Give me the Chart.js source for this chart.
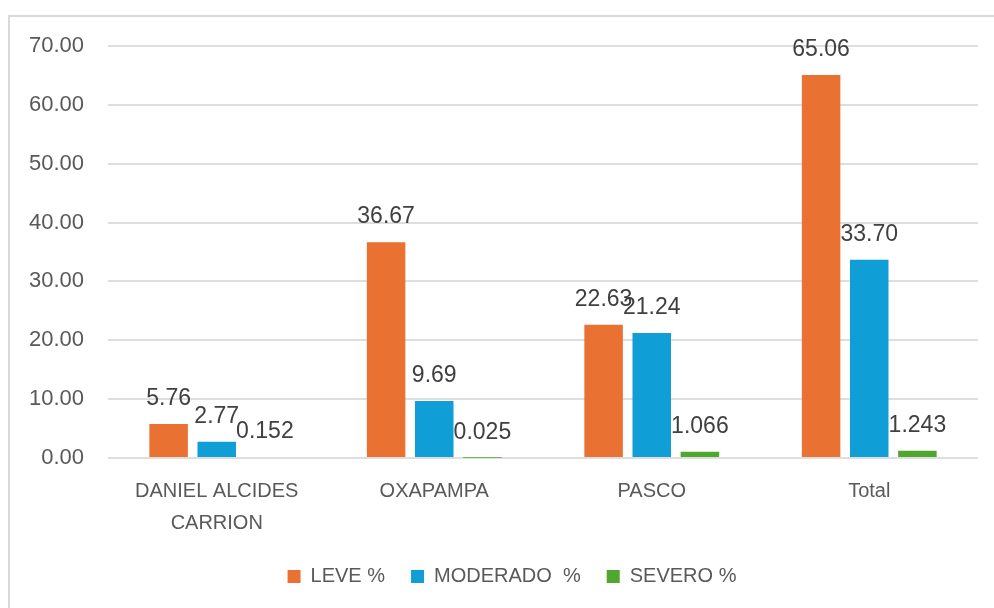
<!DOCTYPE html>
<html>
<head>
<meta charset="utf-8">
<script src="https://cdn.jsdelivr.net/npm/chart.js@4"></script>
<style>
    body { margin: 0; background: #fff; }
    #frame {
        position: absolute; left: 8px; top: 15px; width: 1000px; height: 620px;
        border-left: 2px solid #d9d9d9; border-top: 2px solid #d9d9d9;
    }
    #wrap { position: absolute; left: 0; top: 0; width: 994px; height: 608px; }
</style>
</head>
<body>
<div id="frame"></div>
<div id="wrap"><canvas id="graph"></canvas></div>
<script>
// provinces
var categories = [["DANIEL ALCIDES", "CARRION"], "OXAPAMPA", "PASCO", "Total"];
var leve = [5.76, 36.67, 22.63, 65.06];
var moderado = [2.77, 9.69, 21.24, 33.70];
var severo = [0.152, 0.025, 1.066, 1.243];
var yTicks = [0, 10, 20, 30, 40, 50, 60, 70];

var decimals = [2, 2, 3];

// labels above each bar, like the excel ones
var barLabels = {
    id: "barLabels",
    afterLayout: function (chart) {
        // excel centers the legend a bit more to the right
        chart.legend.left += 9;
        chart.legend.right += 9;
    },
    afterDatasetsDraw: function (chart) {
        var ctx = chart.ctx;
        ctx.save();
        ctx.font = "23px 'Liberation Sans'";
        ctx.fillStyle = "#404040";
        ctx.textAlign = "center";
        ctx.textBaseline = "alphabetic";
        chart.data.datasets.forEach(function (ds, i) {
            var meta = chart.getDatasetMeta(i);
            meta.data.forEach(function (bar, j) {
                ctx.fillText(ds.data[j].toFixed(decimals[i]), bar.x, bar.y - 19);
            });
        });
        ctx.restore();
    }
};

Chart.defaults.font.family = "'Liberation Sans', Arial, sans-serif";
Chart.defaults.color = "#595959";

new Chart(document.getElementById("graph"), {
    type: "bar",
    data: {
        labels: categories,
        datasets: [
            { label: "LEVE %", data: leve, backgroundColor: "#E97132" },
            { label: "MODERADO  %", data: moderado, backgroundColor: "#0F9ED5" },
            { label: "SEVERO %", data: severo, backgroundColor: "#4EA72E" }
        ]
    },
    options: {
        responsive: true,
        maintainAspectRatio: false,
        animation: false,
        datasets: { bar: { categoryPercentage: 0.664, barPercentage: 0.8 } },
        layout: { padding: { left: 28, right: 16, top: 46, bottom: 11.5 } },
        plugins: {
            tooltip: { enabled: false },
            legend: {
                position: "bottom",
                labels: {
                    boxWidth: 13,
                    boxHeight: 13,
                    padding: 26,
                    font: { size: 20 },
                    color: "#595959"
                }
            }
        },
        scales: {
            x: {
                afterFit: function (scale) { scale.height = 82.5; },
                grid: { display: false, drawTicks: false },
                border: { display: false },
                ticks: { padding: 17, maxRotation: 0, font: { size: 20, lineHeight: 1.6 } }
            },
            y: {
                min: 0,
                max: 70,
                afterFit: function (scale) { scale.width = 80; },
                afterBuildTicks: function (scale) {
                    scale.ticks = yTicks.map(function (v) { return { value: v }; });
                },
                grid: { color: "#dedede", lineWidth: 2, drawTicks: false },
                border: { display: false },
                ticks: {
                    padding: 24,
                    font: { size: 22 },
                    callback: function (v) { return Number(v).toFixed(2); }
                }
            }
        }
    },
    plugins: [barLabels]
});
</script>
</body>
</html>
